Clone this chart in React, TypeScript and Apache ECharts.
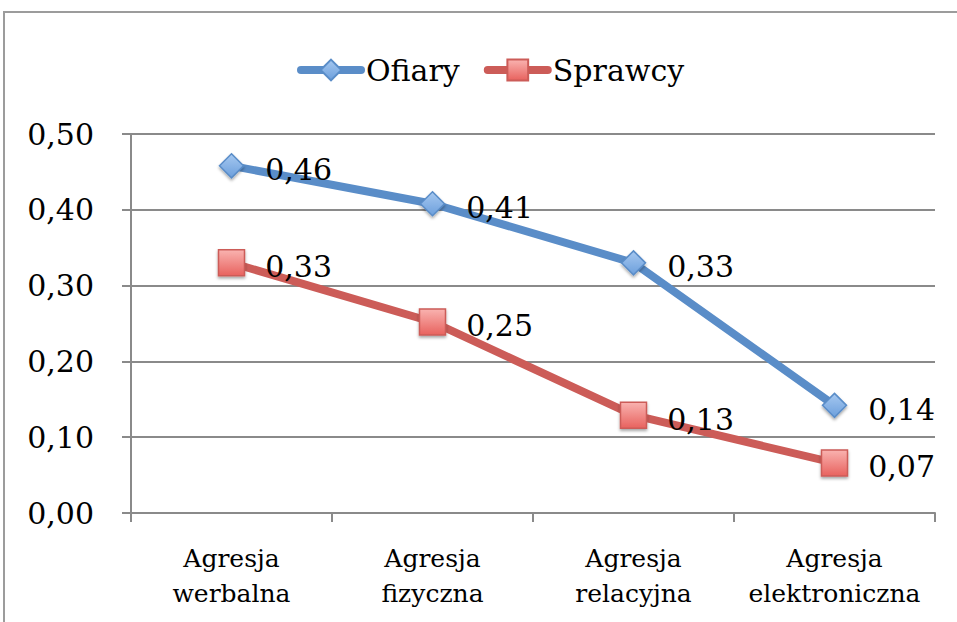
import React, { useEffect, useRef } from "react";
import * as echarts from "echarts";

const categories = [
  "Agresja\nwerbalna",
  "Agresja\nfizyczna",
  "Agresja\nrelacyjna",
  "Agresja\nelektroniczna",
];
const ofiary = [0.458, 0.408, 0.33, 0.142];
const sprawcy = [0.33, 0.252, 0.129, 0.066];
const seriesNames = ["Ofiary", "Sprawcy"];

const FONT = "DejaVu Serif";
const fmt = (v: number) => v.toFixed(2).replace(".", ",");

export default function App() {
  const ref = useRef<HTMLDivElement>(null);
  useEffect(() => {
    document.body.style.margin = "0";
    if (!ref.current) return;
    const chart = echarts.init(ref.current, null, { renderer: "svg" });
    const blueFill = new echarts.graphic.LinearGradient(0, 0, 0, 1, [
      { offset: 0, color: "#a6c8f0" },
      { offset: 1, color: "#6c9fdc" },
    ]);
    const redFill = new echarts.graphic.LinearGradient(0, 0, 0, 1, [
      { offset: 0, color: "#f9b3b0" },
      { offset: 1, color: "#e8625e" },
    ]);
    chart.setOption({
      animation: false,
      backgroundColor: "#ffffff",
      graphic: [
        {
          type: "rect",
          shape: { x: 4, y: 12, width: 1000, height: 700 },
          style: { fill: "none", stroke: "#9c9c9c", lineWidth: 2 },
          silent: true,
        },
      ],
      legend: {
        left: 292,
        top: 50,
        itemWidth: 60,
        itemHeight: 26,
        itemGap: 24,
        textStyle: { fontFamily: FONT, fontSize: 30, color: "#000" },
        lineStyle: { width: 8, cap: "round" },
        data: seriesNames,
      },
      grid: { left: 131, right: 22, top: 134, bottom: 109, containLabel: false },
      xAxis: {
        type: "category",
        data: categories,
        boundaryGap: true,
        axisLine: { lineStyle: { color: "#8a8a8a", width: 2 } },
        axisTick: { show: true, length: 9, lineStyle: { color: "#8a8a8a", width: 2 } },
        axisLabel: {
          fontFamily: FONT,
          fontSize: 25,
          color: "#000",
          lineHeight: 35,
          margin: 28,
          interval: 0,
        },
      },
      yAxis: {
        type: "value",
        min: 0,
        max: 0.5,
        interval: 0.1,
        axisLine: { show: true, lineStyle: { color: "#8a8a8a", width: 2 } },
        axisTick: { show: true, length: 9, lineStyle: { color: "#8a8a8a", width: 2 } },
        splitLine: { lineStyle: { color: "#8a8a8a", width: 2 } },
        axisLabel: {
          fontFamily: FONT,
          fontSize: 30,
          color: "#000",
          margin: 37,
          formatter: (v: number) => fmt(v),
        },
      },
      series: [
        {
          name: seriesNames[0],
          type: "line",
          data: ofiary,
          symbol: "diamond",
          symbolSize: 24,
          lineStyle: { color: "#5a8dc8", width: 8 },
          itemStyle: {
            color: blueFill,
            borderColor: "#5a8dc8",
            borderWidth: 1.5,
            shadowBlur: 3,
            shadowColor: "rgba(0,0,0,0.35)",
            shadowOffsetY: 2,
          },
          label: {
            show: true,
            position: "right",
            distance: 21,
            offset: [0, 4],
            fontFamily: FONT,
            fontSize: 30,
            color: "#000",
            formatter: (p: any) => fmt(p.value),
          },
          z: 3,
        },
        {
          name: seriesNames[1],
          type: "line",
          data: sprawcy,
          symbol: "rect",
          symbolSize: 26,
          lineStyle: { color: "#cc5c58", width: 8 },
          itemStyle: {
            color: redFill,
            borderColor: "#cc5c58",
            borderWidth: 1.5,
            shadowBlur: 3,
            shadowColor: "rgba(0,0,0,0.35)",
            shadowOffsetY: 2,
          },
          label: {
            show: true,
            position: "right",
            distance: 20,
            offset: [0, 4],
            fontFamily: FONT,
            fontSize: 30,
            color: "#000",
            formatter: (p: any) => fmt(p.value),
          },
          z: 2,
        },
      ],
    });
    return () => chart.dispose();
  }, []);
  return <div ref={ref} style={{ width: 957, height: 622 }} />;
}
